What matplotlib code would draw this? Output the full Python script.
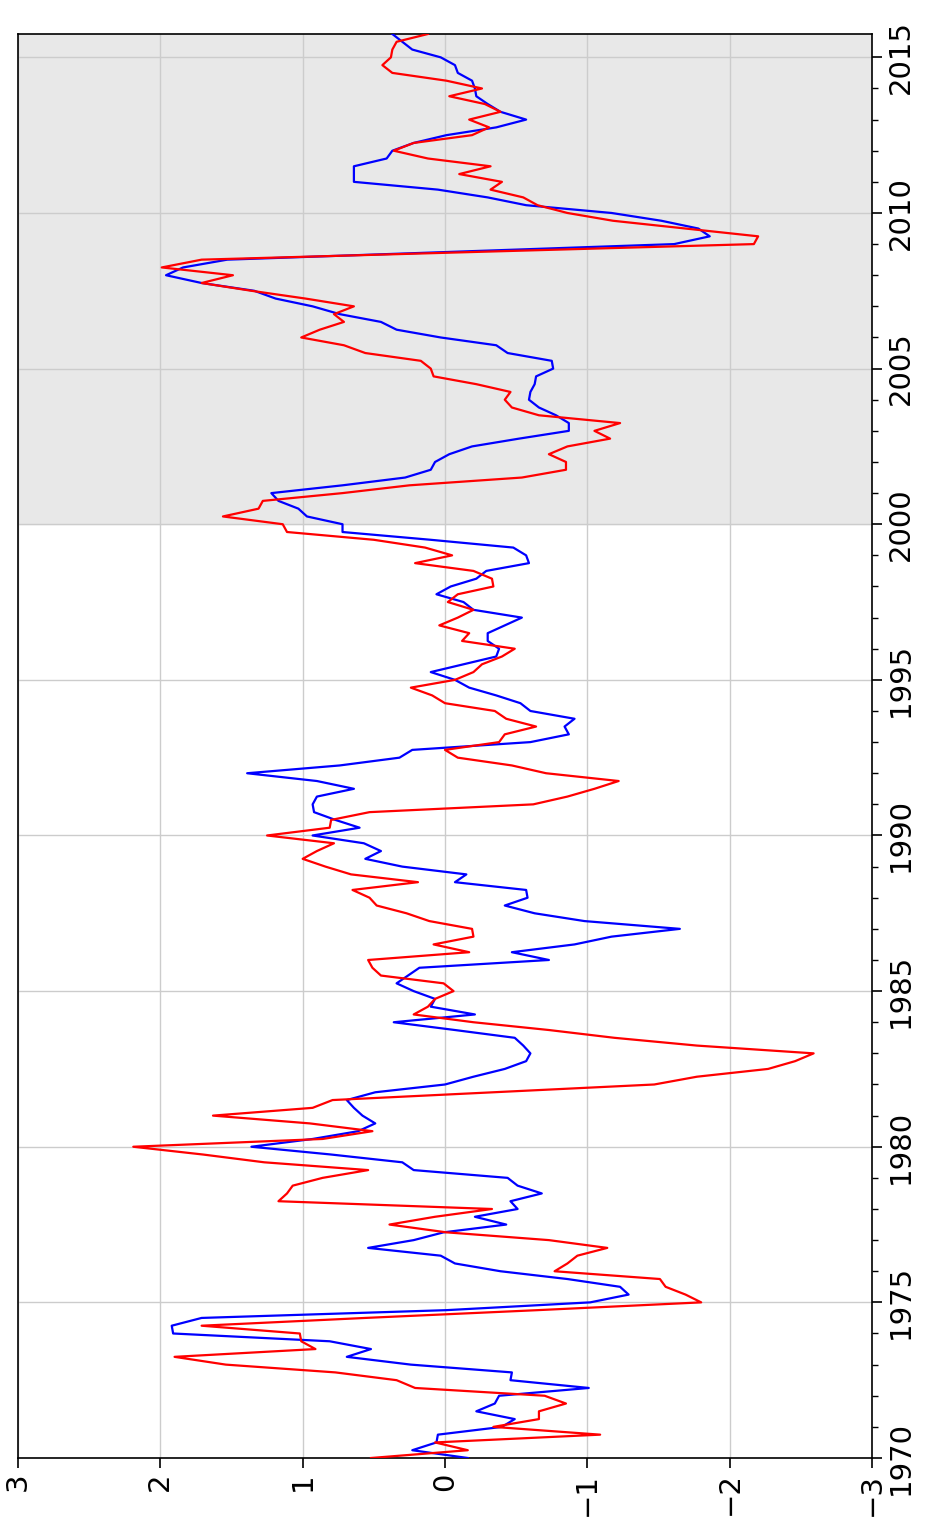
import numpy as np
import matplotlib
matplotlib.use("Agg")
import matplotlib.pyplot as plt

# 四半期データ 1970Q1 - 2015Q4
red = [0.52, -0.16, 0.07, -1.09, -0.34, -0.66, -0.66, -0.85, -0.70, 0.21, 0.34, 0.77, 1.54, 1.90, 0.91, 1.01, 1.02, 1.71, 0.56, -0.65,
       -1.80, -1.69, -1.55, -1.51, -0.77, -0.86, -0.93, -1.14, -0.73, -0.01, 0.39, 0.07, -0.33, 1.17, 1.11, 1.07, 0.86, 0.54, 1.27, 1.70,
       2.19, 0.86, 0.51, 0.95, 1.63, 0.93, 0.79, -0.34, -1.47, -1.77, -2.27, -2.46, -2.59, -1.77, -1.19, -0.73, -0.20, 0.22, 0.12, 0.07,
       -0.06, 0.01, 0.45, 0.51, 0.54, -0.17, 0.08, -0.20, -0.19, 0.11, 0.27, 0.48, 0.53, 0.65, 0.19, 0.66, 0.84, 1.00, 0.90, 0.78,
       1.25, 0.81, 0.80, 0.53, -0.62, -0.86, -1.05, -1.22, -0.71, -0.47, -0.09, 0.00, -0.38, -0.42, -0.64, -0.43, -0.35, 0.00, 0.09, 0.24,
       -0.07, -0.20, -0.26, -0.40, -0.49, -0.12, -0.17, 0.04, -0.09, -0.20, -0.02, -0.09, -0.34, -0.33, -0.20, 0.21, -0.05, 0.14, 0.50, 1.11,
       1.14, 1.56, 1.31, 1.28, 0.72, 0.25, -0.54, -0.85, -0.85, -0.73, -0.86, -1.16, -1.05, -1.23, -0.66, -0.47, -0.42, -0.46, -0.22, 0.08,
       0.10, 0.17, 0.56, 0.71, 1.01, 0.88, 0.71, 0.78, 0.64, 0.98, 1.36, 1.71, 1.49, 1.99, 1.71, -0.24, -2.17, -2.20, -1.69, -1.18,
       -0.86, -0.65, -0.55, -0.32, -0.40, -0.10, -0.32, 0.12, 0.36, 0.22, -0.19, -0.31, -0.17, -0.39, -0.28, -0.03, -0.26, -0.01, 0.37, 0.44,
       0.38, 0.37, 0.34, 0.12]

blue = [-0.16, 0.23, 0.06, 0.05, -0.40, -0.49, -0.22, -0.35, -0.38, -1.01, -0.46, -0.47, 0.24, 0.69, 0.52, 0.81, 1.91, 1.92, 1.71, -0.01,
        -1.02, -1.29, -1.23, -0.86, -0.39, -0.07, 0.03, 0.54, 0.22, 0.01, -0.43, -0.21, -0.51, -0.46, -0.68, -0.51, -0.44, 0.22, 0.30, 0.80,
        1.36, 0.93, 0.61, 0.49, 0.58, 0.64, 0.69, 0.49, 0.00, -0.20, -0.42, -0.57, -0.60, -0.55, -0.49, -0.07, 0.36, -0.21, 0.10, 0.07,
        0.22, 0.34, 0.26, 0.18, -0.73, -0.47, -0.91, -1.17, -1.65, -0.98, -0.63, -0.42, -0.58, -0.57, -0.07, -0.15, 0.30, 0.56, 0.45, 0.57,
        0.93, 0.60, 0.77, 0.92, 0.93, 0.90, 0.64, 0.90, 1.39, 0.74, 0.32, 0.23, -0.60, -0.87, -0.84, -0.91, -0.60, -0.53, -0.36, -0.17,
        -0.07, 0.10, -0.13, -0.36, -0.38, -0.30, -0.30, -0.42, -0.54, -0.20, -0.13, 0.06, -0.04, -0.22, -0.29, -0.59, -0.57, -0.48, 0.10, 0.72,
        0.72, 0.97, 1.03, 1.17, 1.22, 0.72, 0.28, 0.10, 0.07, -0.03, -0.19, -0.52, -0.87, -0.87, -0.78, -0.66, -0.59, -0.60, -0.63, -0.64,
        -0.76, -0.75, -0.44, -0.36, 0.03, 0.34, 0.45, 0.74, 0.93, 1.19, 1.34, 1.71, 1.96, 1.84, 1.53, -0.05, -1.61, -1.86, -1.78, -1.52,
        -1.17, -0.57, -0.30, 0.05, 0.64, 0.64, 0.64, 0.41, 0.37, 0.22, -0.01, -0.36, -0.57, -0.39, -0.30, -0.22, -0.21, -0.19, -0.09, -0.07,
        0.03, 0.23, 0.30, 0.37]

years = 1970 + np.arange(len(red)) * 0.25
year_ticks = list(range(1970, 2016, 5))
value_ticks = [3, 2, 1, 0, -1, -2, -3]
value_labels = ["3", "2", "1", "0", "\u22121", "\u22122", "\u22123"]

fig = plt.figure(figsize=(9.44, 15.21), dpi=100)
ax = fig.add_axes([18 / 944, 63 / 1521, 854 / 944, 1424 / 1521])

# 2000年以降の網掛け
ax.axhspan(2000, 2015.75, color="#e8e8e8", zorder=0)

ax.plot(blue, years, color="blue", lw=1.6, zorder=3)
ax.plot(red, years, color="red", lw=1.6, zorder=3)

ax.set_xlim(3, -3)
ax.set_ylim(1970, 2015.75)

ax.set_xticks(value_ticks)
ax.set_xticklabels(value_labels, rotation=90, fontsize=21)
ax.set_yticks(year_ticks)
ax.set_yticks(range(1970, 2016), minor=True)
ax.set_yticklabels([str(y) for y in year_ticks], rotation=90, fontsize=21, va="center")
ax.yaxis.tick_right()
ax.tick_params(axis="both", which="major", length=7, width=1.2)
ax.tick_params(axis="y", which="minor", length=4, width=1)
ax.grid(True, color="#cccccc", lw=1, zorder=1)
ax.set_axisbelow(True)
for s in ax.spines.values():
    s.set_linewidth(1.2)

plt.savefig("out.png", dpi=100)
